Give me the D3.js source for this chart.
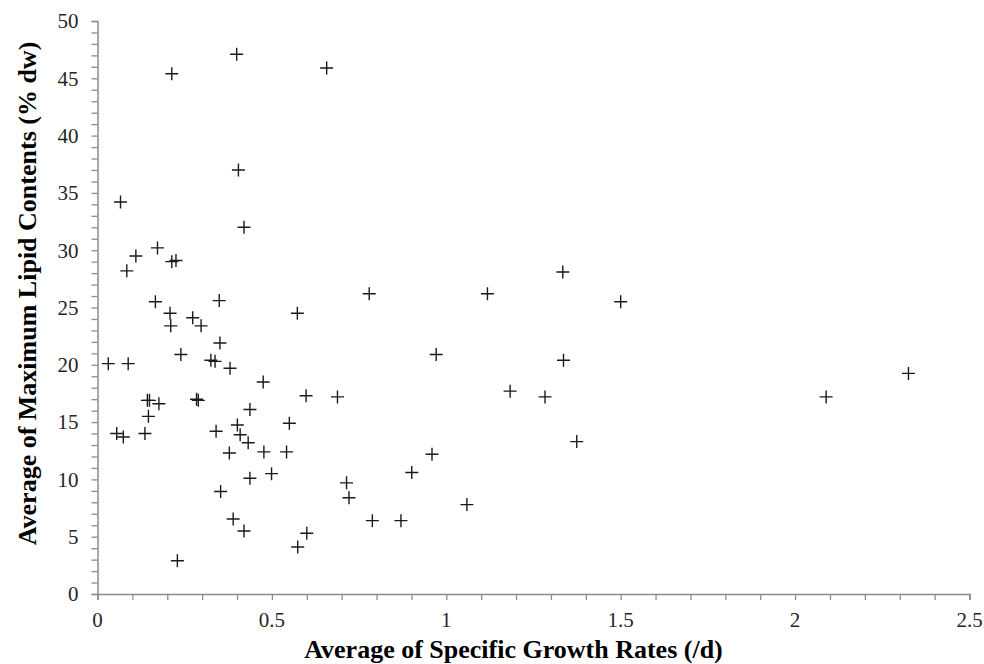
<!DOCTYPE html>
<html>
<head>
<meta charset="utf-8">
<script src="https://cdn.jsdelivr.net/npm/d3@7"></script>
<style>
  body { margin: 0; background: #fff; }
  svg { display: block; }
</style>
</head>
<body>
<svg id="chart"></svg>
<script>
// Average specific growth rate (/d) for each strain
const growthRates = [
    0.399, 0.213, 0.657, 0.404, 0.066, 0.420, 0.172, 0.110, 0.084, 0.213,
    0.225, 0.166, 0.349, 0.573, 0.208, 0.210, 0.273, 0.297, 0.351, 0.239,
    0.031, 0.088, 0.325, 0.337, 0.380, 0.475, 0.598, 0.143, 0.149, 0.176,
    0.284, 0.289, 0.437, 0.146, 0.401, 0.550, 0.340, 0.055, 0.074, 0.136,
    0.409, 0.432, 0.378, 0.477, 0.542, 0.437, 0.499, 0.353, 0.389, 0.420,
    0.600, 0.574, 0.229, 0.779, 1.118, 1.334, 1.500, 0.971, 1.336, 0.688,
    1.183, 1.283, 1.374, 0.959, 0.901, 0.714, 0.721, 1.059, 0.788, 0.870,
    2.089, 2.325
];
// Average maximum lipid content (% dw), same order
const lipidContents = [
    47.1, 45.4, 45.9, 37.0, 34.2, 32.0, 30.2, 29.5, 28.2, 29.0,
    29.1, 25.5, 25.6, 24.5, 24.5, 23.4, 24.1, 23.4, 21.9, 20.9,
    20.1, 20.1, 20.4, 20.3, 19.7, 18.5, 17.3, 16.9, 16.9, 16.6,
    17.0, 16.9, 16.1, 15.5, 14.75, 14.9, 14.2, 14.0, 13.7, 14.0,
    13.9, 13.2, 12.3, 12.4, 12.4, 10.1, 10.5, 8.95, 6.55, 5.5,
    5.3, 4.1, 2.9, 26.2, 26.2, 28.1, 25.5, 20.9, 20.4, 17.2,
    17.7, 17.2, 13.3, 12.2, 10.6, 9.7, 8.4, 7.8, 6.4, 6.4,
    17.2, 19.25
];
const xTickLabels = [0, 0.5, 1, 1.5, 2, 2.5];
const yTickLabels = [0, 5, 10, 15, 20, 25, 30, 35, 40, 45, 50];

const width = 984;
const height = 664;
const margin = { top: 21, right: 14.5, bottom: 70, left: 97.5 };
const serif = '"Liberation Serif", "Times New Roman", serif';

const svg = d3.select('#chart')
    .attr('width', width)
    .attr('height', height);

const x = d3.scaleLinear().domain([0, 2.5]).range([margin.left, width - margin.right]);
const y = d3.scaleLinear().domain([0, 50]).range([height - margin.bottom, margin.top]);

const axisColor = '#8c8c8c';
const textColor = '#262626';

// x axis: ticks every 0.1, labels every 0.5
const xAxis = svg.append('g')
    .attr('transform', `translate(0,${y(0)})`)
    .call(d3.axisBottom(x).tickValues(d3.range(0, 26).map(i => i / 10)).tickSize(6).tickFormat(''));
xAxis.select('.domain').attr('stroke', axisColor).attr('stroke-width', 1.5);
xAxis.selectAll('.tick line').attr('stroke', axisColor).attr('stroke-width', 1.3);

svg.append('g').selectAll('text')
    .data(xTickLabels).join('text')
    .attr('x', d => x(d))
    .attr('y', y(0) + 33)
    .attr('text-anchor', 'middle')
    .attr('font-family', serif)
    .attr('font-size', 21)
    .attr('fill', textColor)
    .text(d => d);

// y axis: ticks every 1, labels every 5
const yAxis = svg.append('g')
    .attr('transform', `translate(${x(0)},0)`)
    .call(d3.axisLeft(y).tickValues(d3.range(0, 51)).tickSize(6).tickFormat(''));
yAxis.select('.domain').attr('stroke', axisColor).attr('stroke-width', 1.5);
yAxis.selectAll('.tick line').attr('stroke', axisColor).attr('stroke-width', 1.3);

svg.append('g').selectAll('text')
    .data(yTickLabels).join('text')
    .attr('x', x(0) - 19)
    .attr('y', d => y(d))
    .attr('dy', '0.35em')
    .attr('text-anchor', 'end')
    .attr('font-family', serif)
    .attr('font-size', 21)
    .attr('fill', textColor)
    .text(d => d);

// axis titles
svg.append('text')
    .attr('x', 513.5)
    .attr('y', 658)
    .attr('text-anchor', 'middle')
    .attr('font-family', serif)
    .attr('font-weight', 'bold')
    .attr('font-size', 26)
    .attr('fill', '#000')
    .text('Average of Specific Growth Rates (/d)');

svg.append('text')
    .attr('transform', 'translate(36,293.5) rotate(-90)')
    .attr('text-anchor', 'middle')
    .attr('font-family', serif)
    .attr('font-weight', 'bold')
    .attr('font-size', 26)
    .attr('fill', '#000')
    .text('Average of Maximum Lipid Contents (% dw)');

// plus markers
const points = growthRates.map((g, i) => ({ g: g, l: lipidContents[i] }));
svg.append('g').selectAll('path')
    .data(points).join('path')
    .attr('transform', d => `translate(${x(d.g)},${y(d.l)})`)
    .attr('d', 'M-6.5,0H6.5M0,-6.5V6.5')
    .attr('stroke', '#1a1a1a')
    .attr('stroke-width', 1.4)
    .attr('fill', 'none');
</script>
</body>
</html>
